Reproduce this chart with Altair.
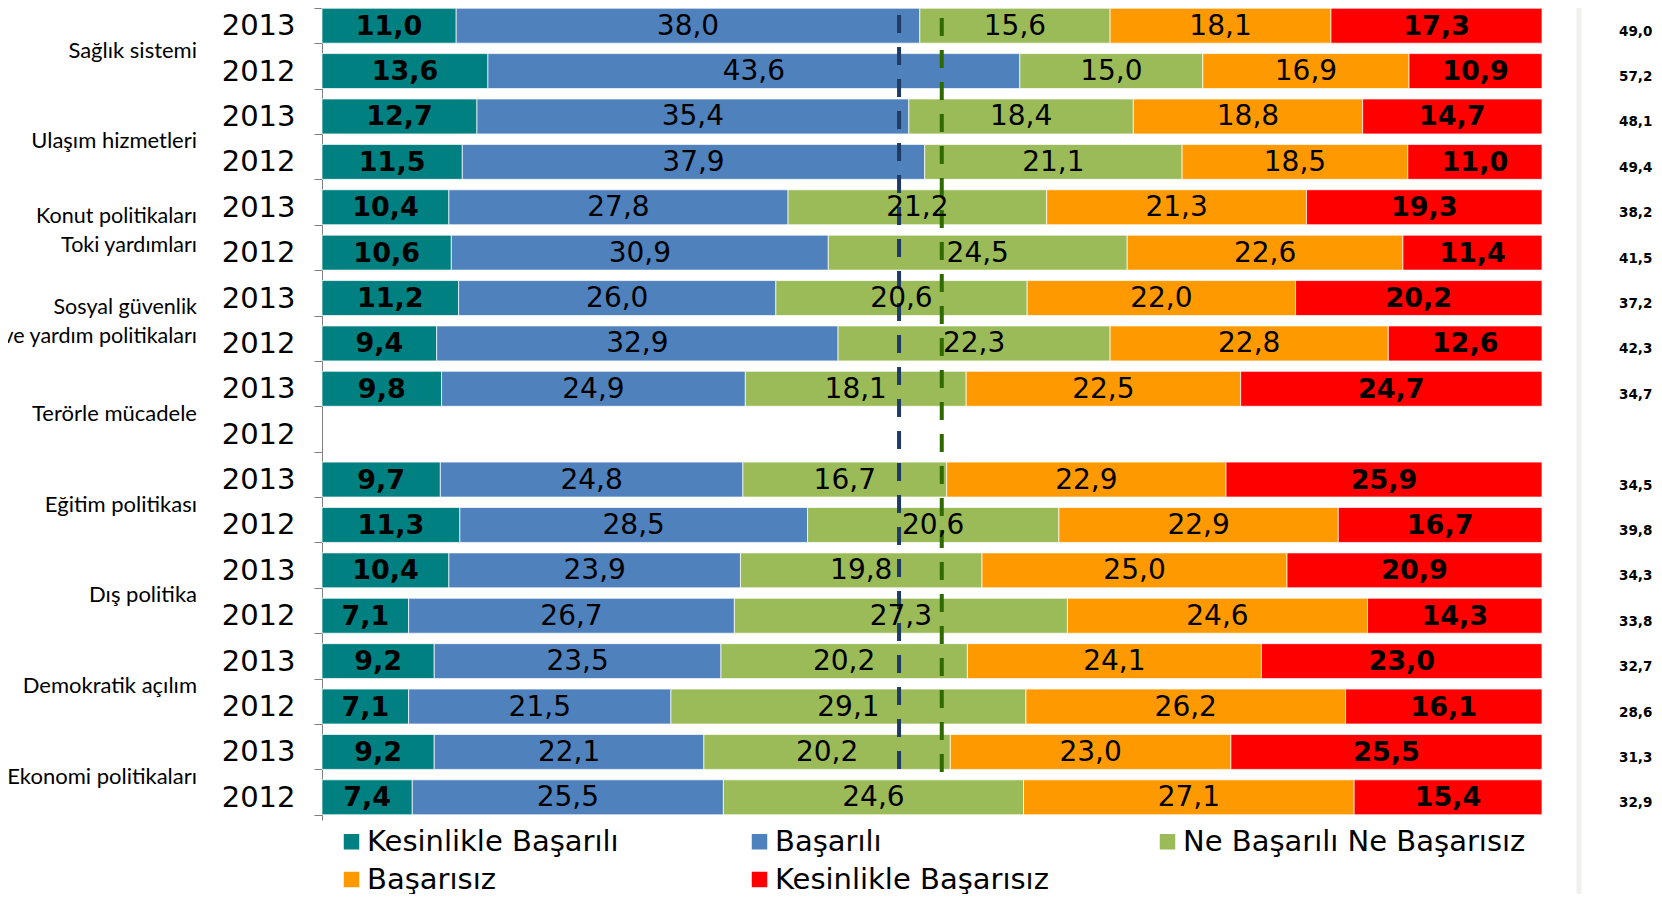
import altair as alt
import pandas as pd

# ---------------- data ----------------
categories = [
    "Sağlık sistemi",
    "Ulaşım hizmetleri",
    "Konut politikaları\nToki yardımları",
    "Sosyal güvenlik\nve yardım politikaları",
    "Terörle mücadele",
    "Eğitim politikası",
    "Dış politika",
    "Demokratik açılım",
    "Ekonomi politikaları",
]
years = ["2013", "2012"]
responses = [
    "Kesinlikle Başarılı",
    "Başarılı",
    "Ne Başarılı Ne Başarısız",
    "Başarısız",
    "Kesinlikle Başarısız",
]
colors = ["#008080", "#4F81BD", "#9BBB59", "#FF9900", "#FF0000"]

values_2013 = [
    [11.0, 38.0, 15.6, 18.1, 17.3],
    [12.7, 35.4, 18.4, 18.8, 14.7],
    [10.4, 27.8, 21.2, 21.3, 19.3],
    [11.2, 26.0, 20.6, 22.0, 20.2],
    [9.8, 24.9, 18.1, 22.5, 24.7],
    [9.7, 24.8, 16.7, 22.9, 25.9],
    [10.4, 23.9, 19.8, 25.0, 20.9],
    [9.2, 23.5, 20.2, 24.1, 23.0],
    [9.2, 22.1, 20.2, 23.0, 25.5],
]
values_2012 = [
    [13.6, 43.6, 15.0, 16.9, 10.9],
    [11.5, 37.9, 21.1, 18.5, 11.0],
    [10.6, 30.9, 24.5, 22.6, 11.4],
    [9.4, 32.9, 22.3, 22.8, 12.6],
    None,
    [11.3, 28.5, 20.6, 22.9, 16.7],
    [7.1, 26.7, 27.3, 24.6, 14.3],
    [7.1, 21.5, 29.1, 26.2, 16.1],
    [7.4, 25.5, 24.6, 27.1, 15.4],
]
positive_2013 = [49.0, 48.1, 38.2, 37.2, 34.7, 34.5, 34.3, 32.7, 31.3]
positive_2012 = [57.2, 49.4, 41.5, 42.3, None, 39.8, 33.8, 28.6, 32.9]
reference_lines = [47.3, 50.8]
reference_colors = ["#1F3A64", "#2E6A00"]

# ---------------- tables ----------------
keys = []
rows = []
totals = []
for i, cat in enumerate(categories):
    for year, vals, pos in (("2013", values_2013[i], positive_2013[i]),
                            ("2012", values_2012[i], positive_2012[i])):
        key = f"{i}|{year}"
        keys.append(key)
        if vals is not None:
            for j, v in enumerate(vals):
                rows.append({"key": key, "response": responses[j], "order": j, "value": v})
        if pos is not None:
            totals.append({"key": key, "total": f"{pos:.1f}".replace(".", ",")})

df = pd.DataFrame(rows)
tot_df = pd.DataFrame(totals)
cat_df = pd.DataFrame({"key": [f"{i}|2013" for i in range(len(categories))],
                       "cat": categories,
                       "lines": [c.count("\n") + 1 for c in categories]})

xscale = alt.Scale(domain=[0, 100], nice=False, zero=True)
yaxis = alt.Axis(
    title=None,
    labelExpr="split(datum.label, '|')[1]",
    labelFont="DejaVu Sans",
    labelFontSize=29,
    labelColor="black",
    labelPadding=19,
    labelBaseline="middle",
    tickSize=8,
    tickColor="#7f7f7f",
    domainColor="#7f7f7f",
    tickBand="extent",
    grid=False,
)
Y = alt.Y("key:N", sort=keys,
          scale=alt.Scale(domain=keys, paddingInner=0.23, paddingOuter=0.115),
          axis=yaxis)

base = alt.Chart(df).transform_stack(
    stack="value", groupby=["key"], sort=[alt.SortField("order")], as_=["x0", "x1"]
).transform_calculate(
    mid="(datum.x0 + datum.x1) / 2",
    label="replace(format(datum.value, '.1f'), '.', ',')",
)

bars = base.mark_bar(stroke="white", strokeWidth=1, strokeOpacity=0.7).encode(
    x=alt.X("x0:Q", scale=xscale, axis=None),
    x2="x1:Q",
    y=Y,
    color=alt.Color(
        "response:N",
        scale=alt.Scale(domain=responses, range=colors),
        legend=alt.Legend(
            title=None, orient="none", legendX=15, legendY=824,
            direction="horizontal", columns=3, gridAlign="all", columnPadding=35, rowPadding=8,
            symbolType="square", symbolSize=240, symbolStrokeWidth=0,
            labelFont="DejaVu Sans", labelFontSize=29, labelColor="black",
            labelOffset=1, labelLimit=500, padding=0,
        ),
    ),
    order=alt.Order("order:Q"),
)

txt_bold = base.transform_filter("datum.order == 0 || datum.order == 4").mark_text(
    font="DejaVu Sans", fontSize=27, fontWeight="bold", color="black", baseline="middle", dy=1
).encode(x=alt.X("mid:Q", scale=xscale, axis=None), y=Y, text="label:N")

txt_reg = base.transform_filter("datum.order > 0 && datum.order < 4").mark_text(
    font="DejaVu Sans", fontSize=28, color="black", baseline="middle", dy=1
).encode(x=alt.X("mid:Q", scale=xscale, axis=None), y=Y, text="label:N")

ref1 = alt.Chart(pd.DataFrame({"x": [reference_lines[0]]})).mark_rule(
    color=reference_colors[0], strokeWidth=4, strokeDash=[18, 14]
).encode(x=alt.X("x:Q", scale=xscale, axis=None), y=alt.value(12), y2=alt.value(777))

ref2 = alt.Chart(pd.DataFrame({"x": [reference_lines[1]]})).mark_rule(
    color=reference_colors[1], strokeWidth=4, strokeDash=[18, 14]
).encode(x=alt.X("x:Q", scale=xscale, axis=None), y=alt.value(15), y2=alt.value(780))

cat_one = alt.Chart(cat_df).transform_filter("datum.lines == 1").mark_text(
    font="Lato", fontSize=22, color="black", align="right", baseline="middle", dy=25
).encode(x=alt.value(-125), y=Y, text="cat:N")

cat_two = alt.Chart(cat_df).transform_filter("datum.lines == 2").mark_text(
    font="Lato", fontSize=21.5, color="black", align="right", baseline="middle",
    lineBreak="\n", lineHeight=29, dy=10
).encode(x=alt.value(-125), y=Y, text="cat:N")

tot_text = alt.Chart(tot_df).mark_text(
    font="DejaVu Sans", fontSize=13.5, fontWeight="bold", color="black", align="left",
    baseline="middle", dy=6
).encode(x=alt.value(1297), y=Y, text="total:N")

frame_r = alt.Chart(pd.DataFrame({"a": [0]})).mark_rule(color="#f1f1ed", strokeWidth=5).encode(
    x=alt.value(1257), y=alt.value(-5), y2=alt.value(900)
)
frame_l = alt.Chart(pd.DataFrame({"a": [0]})).mark_rule(color="#f1f1ed", strokeWidth=3).encode(
    x=alt.value(-320), y=alt.value(10), y2=alt.value(900)
)

chart = alt.layer(frame_r, frame_l, bars, ref1, ref2, txt_reg, txt_bold, cat_one, cat_two,
                  tot_text).properties(
    width=1220,
    height=817,
    autosize=alt.AutoSizeParams(type="none"),
    padding={"left": 314, "top": -5, "right": 112, "bottom": 74},
).configure_view(stroke=None)

chart.save("out.html", embed_options={"renderer": "svg", "actions": False})
